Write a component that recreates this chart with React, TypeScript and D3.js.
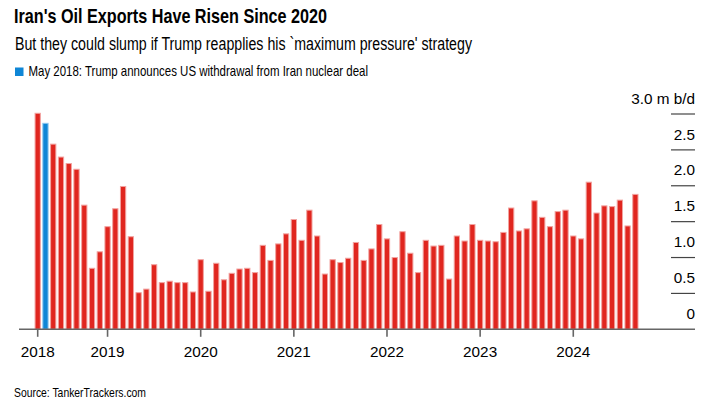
import React from "react";
import * as d3 from "d3";

const startYear = 2018;
const startMonth = 3; // April (0-based)
const exports2018 = [3.01, 2.87, 2.58, 2.4, 2.31, 2.23, 1.73, 0.85, 1.08];
const exports2019 = [1.43, 1.68, 1.99, 1.29, 0.51, 0.56, 0.9, 0.65, 0.67, 0.65, 0.65, 0.52];
const exports2020 = [0.97, 0.53, 0.92, 0.69, 0.78, 0.84, 0.85, 0.79, 1.17, 0.96, 1.19, 1.33];
const exports2021 = [1.53, 1.24, 1.66, 1.3, 0.77, 0.97, 0.93, 0.99, 1.21, 0.96, 1.12, 1.46];
const exports2022 = [1.26, 1.0, 1.36, 1.06, 0.79, 1.24, 1.16, 1.17, 0.7, 1.3, 1.23, 1.46];
const exports2023 = [1.24, 1.23, 1.22, 1.35, 1.69, 1.37, 1.4, 1.79, 1.56, 1.43, 1.64, 1.66];
const exports2024 = [1.3, 1.26, 2.05, 1.62, 1.72, 1.71, 1.8, 1.44, 1.88];
const highlightMonth = "2018-05";
const yearLabels = ["2018", "2019", "2020", "2021", "2022", "2023", "2024"];
const yTicks = [0, 0.5, 1.0, 1.5, 2.0, 2.5, 3.0];

const title = "Iran's Oil Exports Have Risen Since 2020";
const subtitle = "But they could slump if Trump reapplies his `maximum pressure' strategy";
const legendText = "May 2018: Trump announces US withdrawal from Iran nuclear deal";
const sourceText = "Source: TankerTrackers.com";

const allValues = [
  ...exports2018,
  ...exports2019,
  ...exports2020,
  ...exports2021,
  ...exports2022,
  ...exports2023,
  ...exports2024,
];

const data = allValues.map((v, i) => {
  const m = startMonth + i;
  const y = startYear + Math.floor(m / 12);
  const mm = (m % 12) + 1;
  return { key: `${y}-${String(mm).padStart(2, "0")}`, year: y, month: mm, value: v };
});

const RED = "#e0261f";
const RED_EDGE = "#f2a3a0";
const BLUE = "#0f86d6";
const BLUE_EDGE = "#8cc6ef";
const FONT = "'Liberation Sans', Arial, sans-serif";

export default function App() {
  const W = 720;
  const H = 410;
  const step = 7.762;
  const firstCenter = 37.7;
  const x = d3
    .scaleBand<string>()
    .domain(data.map((d) => d.key))
    .range([firstCenter - step / 2, firstCenter - step / 2 + step * data.length])
    .paddingInner(0.32)
    .paddingOuter(0.16);
  const y = d3.scaleLinear().domain([0, 3]).range([329.3, 114]);
  const bw = x.bandwidth();

  const yearTickKeys = yearLabels.map((yl, i) => (i === 0 ? data[0].key : `${yl}-01`));
  const gridX1 = 671;
  const gridX2 = 695;

  return (
    <div style={{ position: "absolute", left: 0, top: 0 }}>
      <svg width={W} height={H} style={{ display: "block", background: "#fff" }}>
        <text x={14} y={23} fontFamily={FONT} fontWeight="bold" fontSize={20.5} fill="#000"
          textLength={313} lengthAdjust="spacingAndGlyphs">{title}</text>
        <text x={15} y={49.5} fontFamily={FONT} fontSize={17.5} fill="#000"
          textLength={457} lengthAdjust="spacingAndGlyphs">{subtitle}</text>
        <rect x={15} y={67.5} width={8.5} height={8.5} fill={BLUE} />
        <text x={28.5} y={76.2} fontFamily={FONT} fontSize={14.3} fill="#000"
          textLength={339.5} lengthAdjust="spacingAndGlyphs">{legendText}</text>

        {yTicks.slice(1).map((t) => (
          <line key={"g" + t} x1={gridX1} x2={gridX2} y1={y(t)} y2={y(t)} stroke="#444" strokeWidth={1.2} />
        ))}
        {yTicks.map((t) => (
          <text key={"yl" + t} x={gridX2} y={y(t) - 10.3} textAnchor="end" fontFamily={FONT}
            fontSize={15.3} fill="#000">
            {t === 0 ? "0" : t.toFixed(1) + (t === 3 ? " m b/d" : "")}
          </text>
        ))}

        {data.map((d) => {
          const hl = d.key === highlightMonth;
          const x0 = x(d.key) as number;
          return (
            <rect key={d.key} x={x0} y={y(d.value)} width={bw} height={y(0) - y(d.value)}
              fill={hl ? BLUE : RED} stroke={hl ? BLUE_EDGE : RED_EDGE} strokeWidth={1} />
          );
        })}

        <line x1={19} x2={gridX2} y1={y(0)} y2={y(0)} stroke="#666" strokeWidth={1.6} />
        {yearTickKeys.map((k, i) => {
          const cx = (x(k) as number) + bw / 2;
          return (
            <g key={k}>
              <line x1={cx} x2={cx} y1={y(0)} y2={y(0) + 7.5} stroke="#666" strokeWidth={1.6} />
              <text x={cx} y={356.5} textAnchor="middle" fontFamily={FONT} fontSize={15.3} fill="#000">
                {yearLabels[i]}
              </text>
            </g>
          );
        })}

        <text x={14} y={397.3} fontFamily={FONT} fontSize={13.3} fill="#000"
          textLength={132} lengthAdjust="spacingAndGlyphs">{sourceText}</text>
      </svg>
    </div>
  );
}
